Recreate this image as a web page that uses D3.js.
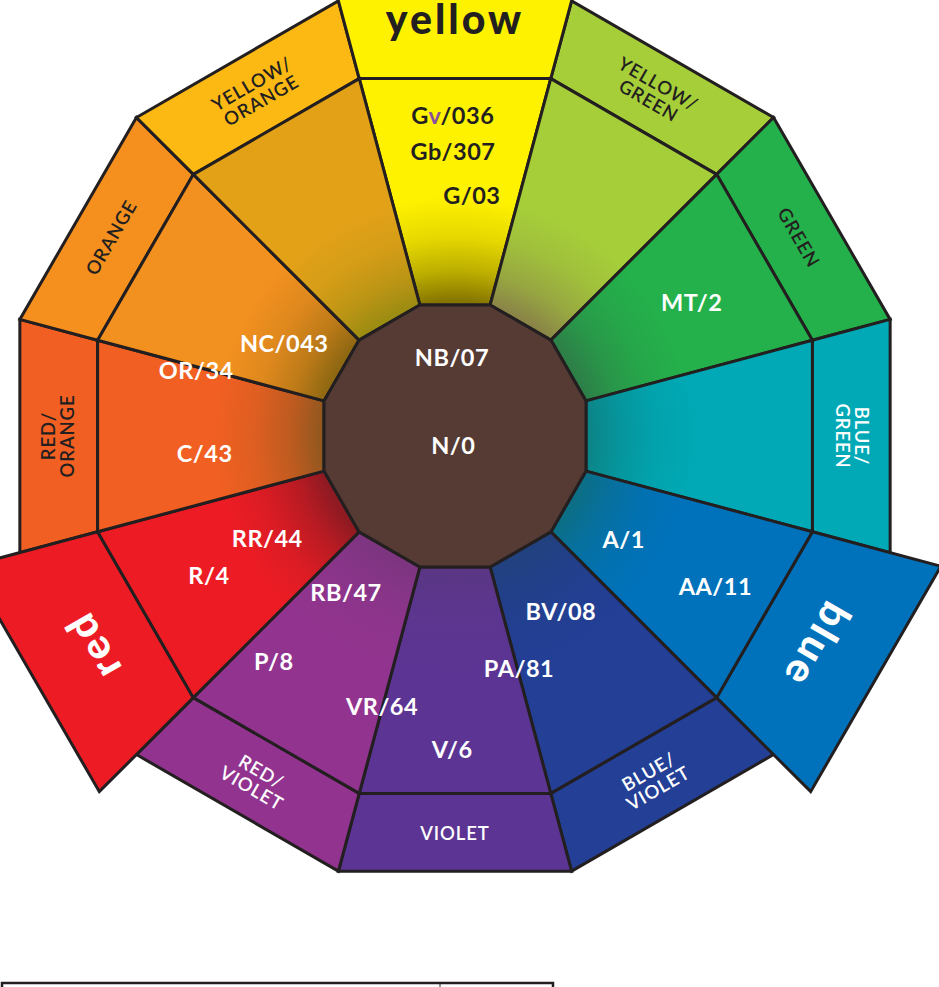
<!DOCTYPE html>
<html>
<head>
<meta charset="utf-8">
<script src="https://cdn.jsdelivr.net/npm/d3@7/dist/d3.min.js"></script>
<style>
  html, body { margin: 0; padding: 0; background: #ffffff; overflow: hidden; }
  svg { display: block; }
</style>
</head>
<body>
<svg id="chart" width="939" height="987"></svg>
<script>
// ---------------- DATA ----------------
// 12 hue families, clockwise from the top
const segmentNames = ["YELLOW", "YELLOW/GREEN", "GREEN", "BLUE/GREEN", "BLUE", "BLUE/VIOLET",
                      "VIOLET", "RED/VIOLET", "RED", "RED/ORANGE", "ORANGE", "YELLOW/ORANGE"];
const primary = [true, false, false, false, true, false, false, false, true, false, false, false];
const outerColors  = ["#fff200", "#a6ce39", "#24b14b", "#00a9b5", "#0072bc", "#233f96",
                      "#5c3594", "#92348f", "#ed1c24", "#f15f22", "#f5901e", "#fdb913"];
const middleColors = ["#fff200", "#a6ce39", "#24b14b", "#00a9b5", "#0072bc", "#233f96",
                      "#5c3594", "#92348f", "#ed1c24", "#f15f22", "#f29020", "#e3a118"];
const innerColors  = ["#867600", "#8a8547", "#2d7f48", "#0b8588", "#0c6f86", "#22417f",
                      "#5a3684", "#7d3580", "#8e1a22", "#94581f", "#8f6812", "#9c8c12"];
const outerLabels  = [["yellow"], ["YELLOW/", "GREEN"], ["GREEN"], ["BLUE/", "GREEN"], ["blue"],
                      ["BLUE/", "VIOLET"], ["VIOLET"], ["RED/", "VIOLET"], ["red"],
                      ["RED/", "ORANGE"], ["ORANGE"], ["YELLOW/", "ORANGE"]];
const outerLabelDark = [true, true, true, false, false, false, false, false, false, true, true, true];
const centerColor = "#553b34";

// colour codes (label text, polar angle in degrees clockwise from top, radius, dark text?)
const codeLabels = ["Gv/036", "Gb/307", "G/03", "MT/2", "NC/043", "OR/34", "C/43", "NB/07", "N/0",
                    "RR/44", "R/4", "RB/47", "A/1", "AA/11", "BV/08", "PA/81", "P/8", "VR/64", "V/6"];
const codeAngles  = [359.6, 359.6, 4.0, 60.5, 298.3, 284.3, 265.9, 357.8, 190,
                     241.3, 240.4, 214.8, 121.6, 120.1, 148.9, 164.6, 218.8, 195.1, 180.5];
const codeRadii   = [320, 284, 241, 272, 194, 267, 251, 79, 10,
                     214, 283, 191, 198, 301, 205, 241, 289, 280, 314];
const codeDark    = [true, true, true, false, false, false, false, false, false,
                     false, false, false, false, false, false, false, false, false, false];

// ---------------- LAYOUT ----------------
const svg = d3.select("#chart");
const cx = 455, cy = 436;
const R0 = 135.6, R1 = 370, R2 = 450.5, R3 = 503;
const ink = "#231f20";
const n = segmentNames.length;
const angle = d3.scaleLinear().domain([0, n]).range([0, 360]);
const half = angle(0.5);
const rad = d => d * Math.PI / 180;
const P = (r, a) => [cx + r * Math.sin(rad(a)), cy - r * Math.cos(rad(a))];
const poly = pts => "M" + pts.map(p => p[0].toFixed(2) + "," + p[1].toFixed(2)).join("L") + "Z";

const defs = svg.append("defs");
segmentNames.forEach((name, i) => {
  const g = defs.append("radialGradient")
    .attr("id", "grad" + i)
    .attr("gradientUnits", "userSpaceOnUse")
    .attr("cx", cx).attr("cy", cy).attr("fx", cx).attr("fy", cy).attr("r", R1);
  const mix = d3.interpolateRgb(innerColors[i], middleColors[i]);
  g.append("stop").attr("offset", R0 / R1).attr("stop-color", innerColors[i]);
  g.append("stop").attr("offset", 165 / R1).attr("stop-color", mix(0.45));
  g.append("stop").attr("offset", 200 / R1).attr("stop-color", mix(0.8));
  g.append("stop").attr("offset", 240 / R1).attr("stop-color", middleColors[i]);
  g.append("stop").attr("offset", 1).attr("stop-color", middleColors[i]);
});

// outer ring (primaries extend further)
const order = d3.range(n).sort((a, b) => d3.ascending(primary[a], primary[b]));
svg.append("g").selectAll("path").data(order).join("path")
  .attr("d", i => {
    const a = angle(i), ro = primary[i] ? R3 : R2;
    return poly([P(R1, a - half), P(ro, a - half), P(ro, a + half), P(R1, a + half)]);
  })
  .attr("fill", i => outerColors[i])
  .attr("stroke", ink).attr("stroke-width", 3).attr("stroke-linejoin", "miter");

// middle ring with gradient toward the centre
svg.append("g").selectAll("path").data(d3.range(n)).join("path")
  .attr("d", i => {
    const a = angle(i);
    return poly([P(R0, a - half), P(R1, a - half), P(R1, a + half), P(R0, a + half)]);
  })
  .attr("fill", i => `url(#grad${i})`)
  .attr("stroke", ink).attr("stroke-width", 3).attr("stroke-linejoin", "miter");

// centre dodecagon
svg.append("path")
  .attr("d", poly(d3.range(n).map(i => P(R0, angle(i) - half))))
  .attr("fill", centerColor)
  .attr("stroke", ink).attr("stroke-width", 3).attr("stroke-linejoin", "miter");

// outer labels
const font = "Lato, 'Open Sans', sans-serif";
const og = svg.append("g");
segmentNames.forEach((name, i) => {
  const a = angle(i);
  const bottom = a > 135 && a < 225;
  const rot = bottom ? a - 180 : a;
  const r = primary[i] ? (i === 0 ? 414 : 416) : 397;
  const [x, y] = P(r, a);
  const lines = outerLabels[i];
  const lh = 19;
  const t = og.append("text")
    .attr("transform", `translate(${x},${y}) rotate(${rot})`)
    .attr("text-anchor", "middle")
    .attr("font-family", font)
    .attr("fill", outerLabelDark[i] ? ink : "#ffffff")
    .attr("font-size", primary[i] ? 41 : 18.5)
    .attr("font-weight", primary[i] ? 900 : 600)
    .attr("letter-spacing", primary[i] ? 3 : 0.9);
  lines.forEach((ln, k) => {
    t.append("tspan")
      .attr("x", 0)
      .attr("y", (k - (lines.length - 1) / 2) * lh)
      .attr("dy", primary[i] ? "0.3em" : "0.36em")
      .text(ln);
  });
});

// colour codes
const cg = svg.append("g");
codeLabels.forEach((lab, i) => {
  const [x, y] = P(codeRadii[i], codeAngles[i]);
  const t = cg.append("text")
    .attr("x", x).attr("y", y).attr("dy", "0.36em")
    .attr("text-anchor", "middle")
    .attr("font-family", font)
    .attr("font-weight", 700)
    .attr("font-size", 23.5)
    .attr("letter-spacing", 0.5)
    .attr("fill", codeDark[i] ? ink : "#ffffff");
  if (lab === "Gv/036") {
    t.append("tspan").text("G");
    t.append("tspan").attr("fill", "#8a4f9e").text("v");
    t.append("tspan").text("/036");
  } else {
    t.text(lab);
  }
});

// top edge of the table below (cut off)
svg.append("rect")
  .attr("x", 2).attr("y", 983).attr("width", 551).attr("height", 30)
  .attr("fill", "none").attr("stroke", ink).attr("stroke-width", 2.5);
svg.append("line")
  .attr("x1", 440).attr("x2", 440).attr("y1", 983).attr("y2", 1000)
  .attr("stroke", ink).attr("stroke-width", 1);
</script>
</body>
</html>
